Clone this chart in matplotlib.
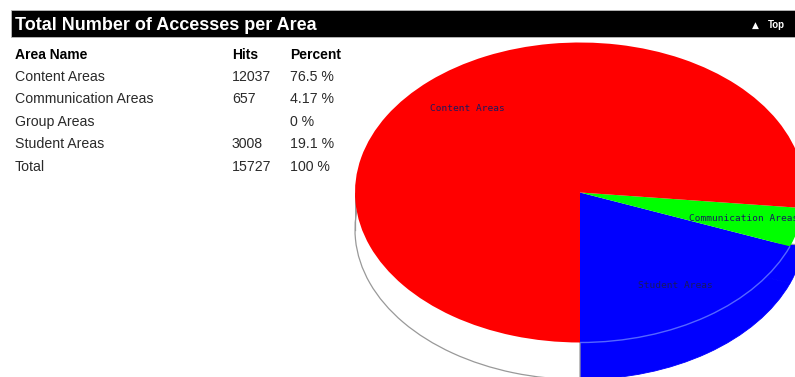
import matplotlib.pyplot as plt
from matplotlib.patches import Rectangle, Arc

# table on the left
area_names = ['Content Areas', 'Communication Areas', 'Group Areas', 'Student Areas', 'Total']
hits = ['12037', '657', '', '3008', '15727']
percents = ['76.5 %', '4.17 %', '0 %', '19.1 %', '100 %']

# pie slices, drawn from the bottom, counter-clockwise (Group Areas = 0, no slice)
pie_labels = ['Student Areas', 'Communication Areas', 'Content Areas']
pie_hits = [3008, 657, 12037]
pie_colors = ['#0000ff', '#00ff00', '#ff0000']
side_colors = ['#0000ff', '#0000ff', '#ffffff']

W, H = 795, 377
fig = plt.figure(figsize=(W / 100, H / 100), dpi=100)
ax = fig.add_axes([0, 0, 1, 1])
ax.set_xlim(0, W)
ax.set_ylim(H, 0)
ax.axis('off')

# header bar
ax.add_patch(Rectangle((11, 10), W - 11, 27, facecolor='black', edgecolor='#bbbbbb', lw=0.6))
ax.text(15, 30.5, 'Total Number of Accesses per Area', color='white', fontsize=13,
        fontweight='bold', family='Liberation Sans', va='baseline')
ax.text(752, 25, '\u25b2', color='white', fontsize=6.5, va='center', family='DejaVu Sans')
ax.text(768, 25, 'Top', color='white', fontsize=7, fontweight='bold', va='center',
        family='Liberation Sans')

# table
hdr_y = 59.3
ax.text(15, hdr_y, 'Area Name', fontsize=10, fontweight='bold', family='Liberation Sans', va='baseline')
ax.text(232, hdr_y, 'Hits', fontsize=10, fontweight='bold', family='Liberation Sans', va='baseline')
ax.text(290, hdr_y, 'Percent', fontsize=10, fontweight='bold', family='Liberation Sans', va='baseline')
for i in range(len(area_names)):
    y = 81 + i * 22.4
    ax.text(15, y, area_names[i], fontsize=10.2, color='#2a2a2a', family='Liberation Sans', va='baseline')
    ax.text(232, y, hits[i], fontsize=10.2, color='#2a2a2a', family='Liberation Sans', va='baseline')
    ax.text(290, y, percents[i], fontsize=10.2, color='#2a2a2a', family='Liberation Sans', va='baseline')

# pseudo 3d pie: ellipse centre / radii / thickness in pixels
cx, cy, rx, ry, depth = 580, 192.5, 225, 150, 37
d = depth / ry
extra = 1 + d + 0.1
pax = fig.add_axes([(cx - rx) / W, (H - cy - ry * extra) / H, 2 * rx / W, ry * (1 + extra) / H])

pax.add_patch(Rectangle((-1, -d), 2, d, facecolor='white', edgecolor='none', zorder=0))
side, _ = pax.pie(pie_hits, colors=side_colors, startangle=-90, counterclock=True,
                  center=(0, -d), radius=1, wedgeprops=dict(linewidth=0, zorder=1))
for w, c in zip(side[:2], side_colors[:2]):
    w.set_edgecolor(c)
    w.set_linewidth(0.6)
side[2].set_edgecolor('#999999')
side[2].set_linewidth(0.9)
pax.plot([-1, -1], [0, -d], color='#999999', lw=0.9, zorder=1.5)

top, texts = pax.pie(pie_hits, colors=pie_colors, labels=pie_labels, startangle=-90,
                     counterclock=True, radius=1, labeldistance=0.75,
                     wedgeprops=dict(linewidth=0, zorder=2),
                     textprops=dict(fontsize=6.8, family='DejaVu Sans Mono', color='#1a1a60'))
for t in texts:
    t.set_horizontalalignment('center')

blue_end = -90 + 360 * pie_hits[0] / sum(pie_hits)
pax.add_patch(Arc((0, 0), 2, 2, theta1=-90, theta2=blue_end, color='#5566ff', lw=1.0, zorder=2.5))

pax.set_xlim(-1, 1)
pax.set_ylim(-extra, 1)
pax.set_aspect('auto')
pax.axis('off')

fig.savefig('out.png', dpi=100)
